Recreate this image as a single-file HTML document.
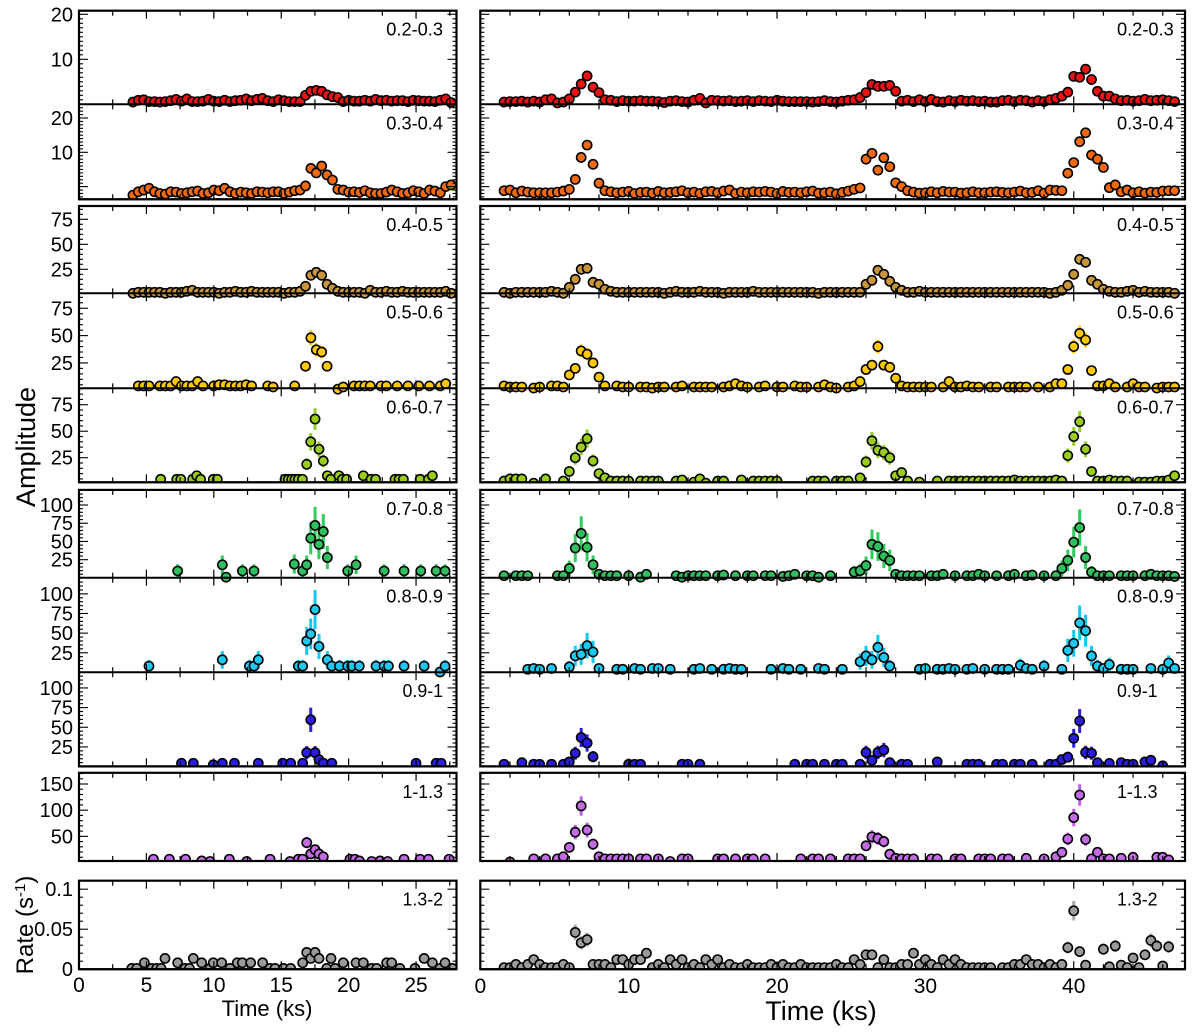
<!DOCTYPE html>
<html><head><meta charset="utf-8"><title>Amplitude light curves</title>
<style>
html,body{margin:0;padding:0;background:#fff;}
svg{display:block;font-family:"Liberation Sans",Arial,sans-serif;}
</style></head>
<body>
<svg id="chart" width="1200" height="1033" viewBox="0 0 1200 1033" xmlns="http://www.w3.org/2000/svg">
<text transform="translate(35,447) rotate(-90)" text-anchor="middle" font-size="27">Amplitude</text>
<text transform="translate(33,925) rotate(-90)" text-anchor="middle" font-size="24">Rate (s<tspan dy="-8" font-size="15">-1</tspan><tspan dy="8">)</tspan></text>
<text x="267" y="1016" text-anchor="middle" font-size="22">Time (ks)</text>
<text x="821" y="1020" text-anchor="middle" font-size="27">Time (ks)</text>
</svg>
<script>
function vals(s){return s.trim().split(/\s+/).map(function(x){return x==='-'?null:+x;});}

const gridLeftT = vals("4.0 4.4 4.8 5.2 5.6 6.0 6.4 6.8 7.2 7.6 8.0 8.4 8.8 9.2 9.6 10.0 10.4 10.8 11.2 11.6 12.0 12.4 12.8 13.2 13.6 14.0 14.4 14.8 15.2 15.6 16.0 16.4 16.8 17.2 17.6 18.0 18.4 18.8 19.2 19.6 20.0 20.4 20.8 21.2 21.6 22.0 22.4 22.8 23.2 23.6 24.0 24.4 24.8 25.2 25.6 26.0 26.4 26.8 27.2 27.6");
const gridRightT = vals("1.6 2.0 2.4 2.8 3.2 3.6 4.0 4.4 4.8 5.2 5.6 6.0 6.4 6.8 7.2 7.6 8.0 8.4 8.8 9.2 9.6 10.0 10.4 10.8 11.2 11.6 12.0 12.4 12.8 13.2 13.6 14.0 14.4 14.8 15.2 15.6 16.0 16.4 16.8 17.2 17.6 18.0 18.4 18.8 19.2 19.6 20.0 20.4 20.8 21.2 21.6 22.0 22.4 22.8 23.2 23.6 24.0 24.4 24.8 25.2 25.6 26.0 26.4 26.8 27.2 27.6 28.0 28.4 28.8 29.2 29.6 30.0 30.4 30.8 31.2 31.6 32.0 32.4 32.8 33.2 33.6 34.0 34.4 34.8 35.2 35.6 36.0 36.4 36.8 37.2 37.6 38.0 38.4 38.8 39.2 39.6 40.0 40.4 40.8 41.2 41.6 42.0 42.4 42.8 43.2 43.6 44.0 44.4 44.8 45.2 45.6 46.0 46.4 46.8");

const bandLabels = ["0.2-0.3","0.3-0.4","0.4-0.5","0.5-0.6","0.6-0.7","0.7-0.8","0.8-0.9","0.9-1","1-1.3","1.3-2"];

const b1LeftV = vals("0.5 0.9 1.0 0.6 0.6 0.5 0.6 0.8 1.1 0.7 1.2 0.6 0.6 0.7 1.1 0.7 0.6 0.9 0.6 0.8 0.9 1.2 0.8 1.1 1.3 0.8 0.6 1.0 0.8 0.6 0.6 0.6 2.0 2.9 3.1 2.9 2.1 1.7 1.5 0.6 0.9 0.7 0.7 0.9 0.7 1.1 0.8 0.9 0.7 0.8 0.8 0.6 0.9 0.8 0.7 0.7 0.6 0.9 1.2 0.4");
const b1RightV = vals("0.5 0.6 0.6 0.7 0.5 0.7 0.5 1.0 1.2 0.3 0.5 1.2 2.7 4.5 6.3 3.8 2.6 1.0 0.9 0.6 0.8 0.7 0.7 0.8 0.7 0.7 0.6 0.4 0.7 0.8 0.6 0.5 0.9 1.3 0.3 0.9 0.8 0.7 0.8 0.6 0.7 0.8 0.6 0.8 0.7 0.6 0.9 0.7 0.6 0.6 0.6 0.6 0.5 0.6 0.8 0.6 0.5 0.7 0.9 1.0 1.5 2.6 4.4 4.0 4.0 4.2 2.9 0.7 0.9 0.6 1.0 0.6 1.1 0.6 0.5 0.8 0.6 0.9 0.7 0.8 0.6 0.7 0.5 0.5 0.8 0.9 0.6 0.9 0.8 0.5 0.8 0.6 1.0 1.3 1.8 2.7 6.2 6.0 7.8 5.5 2.9 1.8 1.8 1.2 0.8 0.9 0.7 0.8 1.1 0.8 0.9 1.0 0.8 0.6");

const b2LeftV = vals("-2.5 -1.5 -1.0 -0.5 -1.5 -2.0 -2.2 -1.5 -1.6 -2.0 -1.8 -1.5 -1.3 -2.0 -1.8 -1.0 -1.2 -0.5 -1.5 -2.0 -1.6 -1.8 -2.0 -1.5 -1.6 -1.8 -1.5 -1.5 -2.0 -1.6 -1.2 -1.0 0.2 5.3 4.0 6.0 3.4 1.9 -0.8 -1.0 -1.6 -1.5 -1.7 -1.2 -1.8 -2.0 -2.0 -1.6 -1.0 -1.5 -2.0 -1.8 -1.2 -1.5 -2.0 -1.0 -1.3 -1.8 0.0 0.5");
const b2RightV = vals("-1.2 -1.0 -1.8 -1.3 -1.6 -1.8 -1.8 -1.8 -1.8 -1.6 -1.3 -0.8 2.1 8.5 12.1 6.5 1.0 -1.2 -1.5 -1.8 -1.6 -1.4 -2.0 -1.7 -1.6 -1.9 -1.4 -1.8 -1.7 -1.5 -1.2 -1.8 -1.6 -2.0 -1.5 -1.4 -1.8 -1.3 -1.0 -2.0 -1.6 -1.8 -1.5 -1.6 -1.4 -1.6 -2.0 -1.4 -1.7 -1.6 -1.8 -1.5 -1.3 -1.9 -1.8 -1.6 -2.1 -1.7 -1.3 -0.8 -0.4 8.0 9.7 4.8 8.4 5.8 1.1 0.0 -1.2 -1.6 -1.9 -1.8 -1.5 -1.8 -1.4 -1.6 -1.6 -1.9 -1.8 -1.5 -1.8 -1.8 -1.6 -1.5 -1.7 -1.8 -1.6 -1.3 -1.8 -1.7 -1.2 -1.9 -1.0 -1.1 -1.2 3.9 7.0 13.1 15.7 9.2 8.0 5.6 -0.3 0.5 -1.5 -1.0 -1.8 -1.5 -1.9 -1.6 -1.7 -1.3 -1.2 -1.2");

const b3LeftV = vals("1 2 2 2 2 2 1 2 2 2 3 4 2 2 2 2 1 2 2 3 2 2 3 2 2 2 2 2 1 2 2 3 8 19 22 19 10 6 3 2 2 2 2 1 4 2 2 3 2 2 3 2 2 2 2 2 2 2 3 1");
const b3RightV = vals("2 1 2 2 2 2 2 2 3 2 1 7 15 25 26 12 10 5 3 2 2 2 2 2 2 2 2 1 2 3 2 2 2 3 2 2 2 1 2 2 2 2 3 2 2 2 2 2 2 2 2 2 2 1 2 2 2 2 2 2 2 10 14 24 20 13 7 4 2 2 3 2 2 2 2 2 2 2 2 2 2 2 2 2 2 2 2 2 2 2 2 2 1 2 4 9 20 35 32 14 10 5 3 2 2 3 4 2 3 2 2 2 2 1");

const b4LeftV = vals("- 4 4 4 - 4 4 4 8 4 4 4 8 4 - 4 5 5 4 4 4 5 4 - - 4 3 - - - 4 - 22 48 37 35 22 - 1 3 - 4 4 4 4 - 4 4 - 4 - 4 - 4 - 4 - 4 6 -");
const b4RightV = vals("4 3 3 3 - 2 3 - 4 4 3 14 20 36 33 25 12 4 - 4 3 3 - 3 3 2 3 3 - 3 4 - 3 3 3 3 - 3 4 6 4 3 - 3 4 - 3 3 - 4 3 3 - 3 5 3 2 - 3 4 8 19 23 40 23 21 11 4 3 3 3 3 3 - 3 8 3 3 4 3 3 - 3 3 - 3 3 3 3 - 3 - 3 6 6 19 40 52 46 18 4 4 6 3 - 3 6 3 3 - 2 3 3 3");

const b5LeftT = vals("6.06 7.25 7.55 8.43 8.73 9.02 9.96 10.26 15.28 15.53 15.78 16.02 16.27 16.57 16.89 17.19 17.51 17.8 18.12 18.42 18.67 19.28 19.53 19.85 21.09 21.66 22.0 23.44 23.74 24.06 25.3 25.92 26.21");
const b5LeftV = vals("4.6 4.6 4.6 4.6 8 4.6 4.6 4.6 4.6 4.6 4.6 4.6 4.6 4.6 18.8 40 61.5 33 22 8 4.6 8 4.6 4.6 8 4.6 4.6 4.6 4.6 4.6 4.6 4.6 8");
const b5RightV = vals("3 5 5 5 - 1 - 5 - - 3 12 25 35 43 22 10 6 3 3 3 3 - 3 3 3 3 - - 3 4 - 2 5 1 - 3 3 - - 4 - 3 3 3 3 3 - - - - - 3 3 3 - 3 3 3 - 6 21 41 32 30 25 8 11 3 - 2 - - 3 - 3 3 3 3 3 3 3 3 3 3 3 4 3 3 3 3 3 3 4 3 27 45 59 33 12 3 3 4 3 3 3 - 2 2 2 3 3 4 8");

const b6LeftT = vals("7.32 10.63 10.91 12.12 12.98 15.97 16.59 16.89 17.19 17.51 17.8 18.12 18.42 19.93 20.55 22.63 24.11 25.35 26.49 27.15");
const b6LeftV = vals("9.5 18 1 9.5 9.5 19 9.5 18 54.5 72 46 63.6 28 9.5 18 9.5 9.5 9.5 9.5 9.5");
const b6RightV = vals("3 - 3 3 3 - - - - 3 3 13 41 61 42 18 5 3 3 3 - 3 - 1 5 - - - - 3 1 3 3 3 3 - 3 4 - 3 - 3 3 - 3 3 - 2 3 5 - 3 3 1 - 3 - - - 8 10 17 46 43 30 24 5 3 3 3 3 - 3 3 5 - 3 - 3 3 5 3 - 3 - 3 5 - 3 4 - 3 - 3 13 24 49 69 28 8 3 3 3 - 3 3 3 - 3 5 3 3 3 2");

const b7LeftT = vals("5.19 10.63 12.64 12.98 13.3 16.27 16.59 16.89 17.19 17.51 17.8 18.42 18.75 19.32 19.93 20.23 20.79 22.03 22.63 22.95 24.11 25.6 26.78 27.15");
const b7LeftV = vals("8 16 8 8 16 8 8 40 49 80 33 16 8 8 8 8 8 8 8 8 8 8 0.5 8");
const b7RightV = vals("- - - - 4 5 4 - 5 - - 7 21 23 34 26 5 - - 4 4 - 5 4 - 5 5 - 4 - - - 4 5 - 4 - 4 5 4 4 - - - - 4 - 5 4 - 4 - - 5 4 - - 4 - - 13.6 21 16 32 19 8 - - - - 4 5 - 4 4 5 4 - 4 5 - 4 - 4 4 4 - 9 5 4 - 8 - - 4 28 37 63 53 21 8 5 10 - 4 4 4 - - 5 - 4 12 5");

const b8LeftT = vals("7.6 8.48 9.96 10.63 11.53 13.3 15.11 15.7 16.59 16.89 17.19 17.51 17.8 18.12 18.75 25.0 26.49 26.86");
const b8LeftV = vals("4.3 4.3 2.3 4.3 4.3 4.3 4.3 4.3 4.3 17.7 59.5 17.7 8.8 4.3 4.3 4.3 4.3 4.3");
const b8RightV = vals("3 - - 5 - 3 3 - 3 - 3 6 17 37 30 12.6 - - - - - 3 3 3 - - - - - - 3 3 - 3 - - - - - - - - - - - - - - - 3 - 3 3 - 3 - 3 3 - - 3 18 8 18 21 5 - 3 3 - - - - 6 - - - - 3 3 3 - - 3 3 - 3 3 - 3 - - 3 3 9 12 36 58 18 17 5 - 4 - 5 3 3 - 6 8 - 1 - -");

const b9LeftT = vals("5.52 6.7 7.9 9.1 9.72 11.15 12.44 14.17 15.65 16.27 16.59 16.89 17.19 17.51 17.8 18.12 20.1 20.47 20.8 21.71 22.33 22.9 24.11 25.3 25.92 27.45");
const b9LeftV = vals("6.3 6.3 6.3 3 2 6.3 2 6.3 2 6.3 6.3 38 16.5 24.5 16.5 11 6.3 6.3 3 2 3 2 6.3 6.3 6.3 6.3");
const b9RightV = vals("- 1 - - - 7 - 7 - 7 11 29 58 108 62 35 11 7 7 7 7 7 - 7 7 - 7 - 2 - 7 7 - - - - 7 7 - 7 - 7 7 - 7 - - - - - 7 - 7 7 - 7 - - 7 7 7 32 49 46 40 16 8 7 7 7 - - 7 7 - - 7 7 - - 7 7 7 - 7 7 - - 8 - - 7 - 11 19.5 45 86 129 44 7 19.5 7 7 - 8 - 10 - - - 10 10 5 -");

const b10LeftT = vals("3.91 4.28 4.85 5.4 5.76 6.09 6.38 7.32 7.87 8.19 8.48 9.1 9.72 9.96 10.58 11.2 11.74 12.12 12.73 13.62 14.17 14.54 15.16 15.7 16.59 16.89 17.19 17.51 17.8 18.37 18.69 18.99 19.6 20.55 21.09 21.71 22.08 22.82 23.19 23.8 24.92 25.6 26.21 26.78 27.15 27.7");
const b10LeftV = vals("0.001 0.001 0.008 0.001 0.001 0.001 0.0135 0.008 0.001 0.001 0.0135 0.008 0.001 0.008 0.008 0.001 0.008 0.008 0.008 0.008 0.001 0.001 0.001 0.001 0.008 0.021 0.0135 0.021 0.0135 0.001 0.0135 0.001 0.008 0.008 0.008 0.001 0.001 0.008 0.008 0.001 0.001 0.0135 0.008 0.001 0.008 0.001");
const b10RightV = vals("0.002 0.002 0.006 0.002 0.006 0.012 0.006 0.002 0.002 0.002 0.006 0.002 0.046 0.033 0.037 0.006 0.006 0.006 0.002 0.012 0.012 0.006 0.012 0.012 0.02 0.002 0.006 0.002 0.012 0.006 0.012 0.002 0.006 0.002 0.012 0.006 0.012 0.002 0.006 0.002 0.002 0.006 0.002 0.002 0.002 0.006 0.002 0.006 0.002 0.002 0.006 0.002 0.002 0.002 0.002 0.002 0.006 0.002 0.002 0.012 0.006 0.018 0.018 0.002 0.012 0.002 0.002 0.006 0.006 0.02 0.006 0.012 0.006 0.002 0.012 0.006 0.012 0.006 0.002 0.002 0.002 0.002 0.002 - 0.002 0.002 0.006 0.006 0.012 0.006 0.006 0.002 0.006 0.002 0.006 0.027 0.073 0.022 0.005 - - 0.025 0.003 0.029 0.005 0.002 0.014 0.002 0.018 0.036 0.029 0.004 0.028 -");

const xTickLabelsLeft = [0,5,10,15,20,25];
const xTickLabelsRight = [0,10,20,30,40];

/* layout (not data) */
const NS = "http://www.w3.org/2000/svg";
const svg = document.getElementById('chart');
const panels = [
  {key:'left', x0:79, x1:456.5, tmin:0, tmax:28, major:5, minor:2.5},
  {key:'right', x0:480.3, x1:1185, tmin:0, tmax:47.5, major:10, minor:2}
];
const rows = [
  {top:10.7, bottom:104.3, ymin:0, ymax:20.8, major:10, minor:1, labels:[10,20], color:'#ee1111', err:'#ff5a3a', errK:0.15, LT:gridLeftT, LV:b1LeftV, RT:gridRightT, RV:b1RightV},
  {top:104.3, bottom:199.3, ymin:-3.7, ymax:24.0, major:10, minor:1, labels:[10,20], color:'#f26a10', err:'#ff7a1a', errK:0.3, LT:gridLeftT, LV:b2LeftV, RT:gridRightT, RV:b2RightV},
  {top:206, bottom:293.3, ymin:1, ymax:88.3, major:25, minor:5, labels:[25,50,75], color:'#c8953a', err:'#d9a040', errK:0.4, LT:gridLeftT, LV:b3LeftV, RT:gridRightT, RV:b3RightV},
  {top:293.3, bottom:388.3, ymin:1.8, ymax:88.7, major:25, minor:5, labels:[25,50,75], color:'#ffc800', err:'#ffc800', errK:1.0, LT:gridLeftT, LV:b4LeftV, RT:gridRightT, RV:b4RightV},
  {top:388.3, bottom:482.3, ymin:1.8, ymax:90.5, major:25, minor:5, labels:[25,50,75], color:'#9acd19', err:'#8fd01a', errK:1.3, LT:b5LeftT, LV:b5LeftV, RT:gridRightT, RV:b5RightV},
  {top:489.9, bottom:577.7, ymin:0.3, ymax:120.7, major:25, minor:5, labels:[25,50,75,100], color:'#2fbf5f', err:'#2ecc5a', errK:3.0, LT:b6LeftT, LV:b6LeftV, RT:gridRightT, RV:b6RightV},
  {top:577.7, bottom:672.2, ymin:0.25, ymax:120.6, major:25, minor:5, labels:[25,50,75,100], color:'#1ec8f0', err:'#10c8f5', errK:2.8, LT:b7LeftT, LV:b7LeftV, RT:gridRightT, RV:b7RightV},
  {top:672.2, bottom:766.4, ymin:0.25, ymax:120, major:25, minor:5, labels:[25,50,75,100], color:'#2a1de0', err:'#2a1de8', errK:2.0, LT:b8LeftT, LV:b8LeftV, RT:gridRightT, RV:b8RightV},
  {top:772.8, bottom:861, ymin:2.9, ymax:171.4, major:50, minor:10, labels:[50,100,150], color:'#c36ae6', err:'#c060f0', errK:1.8, LT:b9LeftT, LV:b9LeftV, RT:gridRightT, RV:b9RightV},
  {top:880.7, bottom:969.2, ymin:0, ymax:0.1106, major:0.05, minor:0.01, labels:[0,0.05,0.1], color:'#9a9a9a', err:'#a8a8a8', errK:0.045, LT:b10LeftT, LV:b10LeftV, RT:gridRightT, RV:b10RightV}
];
const groups = [[0,1],[2,3,4],[5,6,7],[8],[9]];

function mk(tag, attrs, parent){
  const e = document.createElementNS(NS, tag);
  for (const k in attrs) e.setAttribute(k, attrs[k]);
  (parent||svg).appendChild(e);
  return e;
}
function xS(p, t){ return p.x0 + (t - p.tmin)/(p.tmax - p.tmin)*(p.x1 - p.x0); }
function yS(r, v){ return r.bottom - (v - r.ymin)/(r.ymax - r.ymin)*(r.bottom - r.top); }

const defs = mk('defs', {});
groups.forEach(function(g, gi){
  panels.forEach(function(p){
    const top = rows[g[0]].top, bot = rows[g[g.length-1]].bottom;
    const cp = mk('clipPath', {id:'clip-'+gi+'-'+p.key}, defs);
    mk('rect', {x:p.x0, y:top, width:p.x1-p.x0, height:bot-top}, cp);
  });
});

rows.forEach(function(r, ri){
  const gi = groups.findIndex(function(g){return g.indexOf(ri)>=0;});
  panels.forEach(function(p){
    const T = p.key==='left' ? r.LT : r.RT;
    const V = p.key==='left' ? r.LV : r.RV;
    const layer = mk('g', {'clip-path':'url(#clip-'+gi+'-'+p.key+')'});
    
    
    for (let i=0;i<T.length;i++){
      const v = V[i];
      if (v===null || v===undefined) continue;
      const cx = xS(p, T[i]);
      const e = r.errK*Math.sqrt(Math.abs(v));
      const bar = mk('line', {x1:cx, x2:cx, y1:yS(r, v+e), y2:yS(r, v-e), stroke:r.err, 'stroke-width':3}, layer);
      
      
    }
    for (let i=0;i<T.length;i++){
      const v = V[i];
      if (v===null || v===undefined) continue;
      const c = mk('circle', {cx:xS(p, T[i]), cy:yS(r, v), r:4.6, fill:r.color, stroke:'#000', 'stroke-width':1.6}, layer);
      
      
    }
    for (let t=p.tmin; t<=p.tmax+1e-9; t+=p.minor){
      const isMaj = Math.abs(t/p.major - Math.round(t/p.major))<1e-6;
      const L = isMaj?8:5, x = xS(p,t);
      mk('line', {x1:x,x2:x,y1:r.top,y2:r.top+L,stroke:'#000','stroke-width':1.2});
      mk('line', {x1:x,x2:x,y1:r.bottom,y2:r.bottom-L,stroke:'#000','stroke-width':1.2});
    }
    const start = Math.ceil(r.ymin/r.minor - 1e-9)*r.minor;
    for (let v=start; v<=r.ymax+1e-12; v+=r.minor){
      const y = yS(r, v);
      if (y < r.top+0.5 || y > r.bottom-0.5) continue;
      const isMaj = Math.abs(v/r.major - Math.round(v/r.major))<1e-6;
      const L = isMaj?9:4;
      mk('line', {x1:p.x0,x2:p.x0+L,y1:y,y2:y,stroke:'#000','stroke-width':1.1});
      mk('line', {x1:p.x1,x2:p.x1-L,y1:y,y2:y,stroke:'#000','stroke-width':1.1});
    }
    const lw = bandLabels[ri].length*8.1;
    const lbl = mk('text', p.key==='left' ? {x:443, y:r.top+25, 'text-anchor':'end', 'font-size':18, textLength:lw, lengthAdjust:'spacingAndGlyphs'} : {x:1117, y:r.top+25, 'text-anchor':'start', 'font-size':18, textLength:lw, lengthAdjust:'spacingAndGlyphs'});
    lbl.textContent = bandLabels[ri];
    
    
  });
  r.labels.forEach(function(v){
    const t = mk('text', {x:73, y:yS(r,v)+7, 'text-anchor':'end', 'font-size':20});
    t.textContent = String(v);
    
    
  });
  panels.forEach(function(p){
    const s = mk('line', {x1:p.x0, x2:p.x1, y1:r.bottom, y2:r.bottom, stroke:'#000', 'stroke-width':2});
    
    
  });
});

groups.forEach(function(g){
  panels.forEach(function(p){
    const top = rows[g[0]].top, bot = rows[g[g.length-1]].bottom;
    const f = mk('rect', {x:p.x0, y:top, width:p.x1-p.x0, height:bot-top, fill:'none', stroke:'#000', 'stroke-width':2.2});
    
    
  });
});

xTickLabelsLeft.forEach(function(t){
  const e = mk('text', {x:xS(panels[0],t), y:992, 'text-anchor':'middle', 'font-size':21});
  e.textContent = String(t);
  
  
});
xTickLabelsRight.forEach(function(t){
  const e = mk('text', {x:xS(panels[1],t), y:993, 'text-anchor':'middle', 'font-size':21});
  e.textContent = String(t);
  
  
});
</script>
</body></html>
